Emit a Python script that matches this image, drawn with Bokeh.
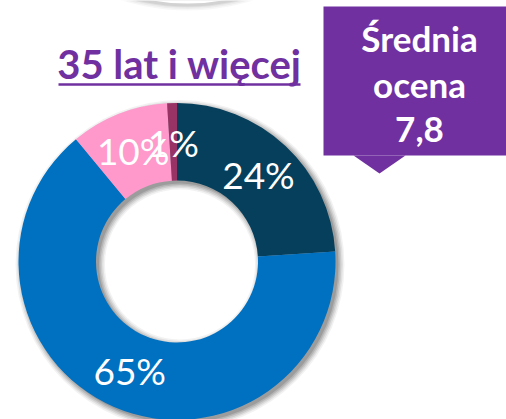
import math
from bokeh.plotting import figure
from bokeh.models import Range1d, ColumnDataSource
from bokeh.core.properties import value
from bokeh.embed import file_html
from bokeh.resources import INLINE

# ---- data ----
shares = [24, 65, 10, 1]
share_labels = ["24%", "65%", "10%", "1%"]
colors = ["#053F5C", "#0070C0", "#FF99CC", "#993366"]
title_text = "35 lat i więcej"
callout_lines = ["Średnia", "ocena", "7,8"]

# ---- layout (page pixel helpers) ----
W, H = 506, 419
def Y(py):
    return H - py

cx, cy = 176.5, Y(261)
r_out, r_in = 158.5, 81.0
r_lab = 119.0

p = figure(width=W, height=H, output_backend="svg", toolbar_location=None,
           x_range=Range1d(0, W), y_range=Range1d(0, H), min_border=0)
p.axis.visible = False
p.grid.visible = False
p.outline_line_color = None
p.background_fill_color = "white"
p.border_fill_color = "white"

# faint shadow of the element above (cut by the top edge)
top_cx, top_cy, top_r = 187, Y(-214), 217
for k, a in [(5, 0.03), (3.5, 0.04), (2, 0.05), (1, 0.06)]:
    p.circle(x=[top_cx], y=[top_cy - 2], radius=top_r + k,
             fill_color="#000000", fill_alpha=a, line_color=None)
p.circle(x=[top_cx], y=[top_cy], radius=top_r, fill_color="white", line_color=None)

# soft shadow of ring
for k, a in [(6, 0.05), (4.5, 0.07), (3, 0.09), (1.5, 0.11), (0, 0.13)]:
    p.annulus(x=[cx + 3], y=[cy - 3], inner_radius=r_in - k, outer_radius=r_out + k,
              fill_color="#000000", fill_alpha=a, line_color=None)

# donut wedges
total = float(sum(shares))
starts, ends, lx, ly = [], [], [], []
cum = 0.0
for s in shares:
    a0 = math.pi / 2 - 2 * math.pi * cum / total
    a1 = math.pi / 2 - 2 * math.pi * (cum + s) / total
    mid = (a0 + a1) / 2
    starts.append(a0)
    ends.append(a1)
    lx.append(cx + r_lab * math.cos(mid))
    ly.append(cy + r_lab * math.sin(mid))
    cum += s

src = ColumnDataSource(dict(start=starts, end=ends, color=colors, lx=lx, ly=ly, lab=share_labels))
p.annular_wedge(x=cx, y=cy, inner_radius=r_in, outer_radius=r_out,
                start_angle="start", end_angle="end", direction="clock",
                fill_color="color", line_color=None, source=src)
p.text(x="lx", y="ly", text="lab", source=src, text_color="white",
       text_font=value("Lato"), text_font_size=value("37px"),
       text_align="center", text_baseline="middle")

# title with underline
title_cx = 179
p.text(x=[title_cx], y=[Y(63.5)], text=[title_text], text_color="#7030A0",
       text_font=value("Lato"), text_font_style="bold", text_font_size=value("40px"),
       text_align="center", text_baseline="middle")
p.segment(x0=[58], y0=[Y(84)], x1=[300], y1=[Y(84)], line_color="#7030A0", line_width=2.4)

# callout box
box_col = "#7030A0"
p.quad(left=[323], right=[510], top=[Y(6)], bottom=[Y(155)], fill_color=box_col, line_color=None)
p.patch(x=[353, 405, 379], y=[Y(155), Y(155), Y(173)], fill_color=box_col, line_color=None)
tx = 419
mid_ys = [37, 83, 129]
p.text(x=[tx] * 3, y=[Y(m) for m in mid_ys], text=callout_lines, text_color="white",
       text_font=value("Lato"), text_font_style="bold", text_font_size=value("35px"),
       text_align="center", text_baseline="middle")

open("out.html", "w").write(file_html(p, INLINE))
